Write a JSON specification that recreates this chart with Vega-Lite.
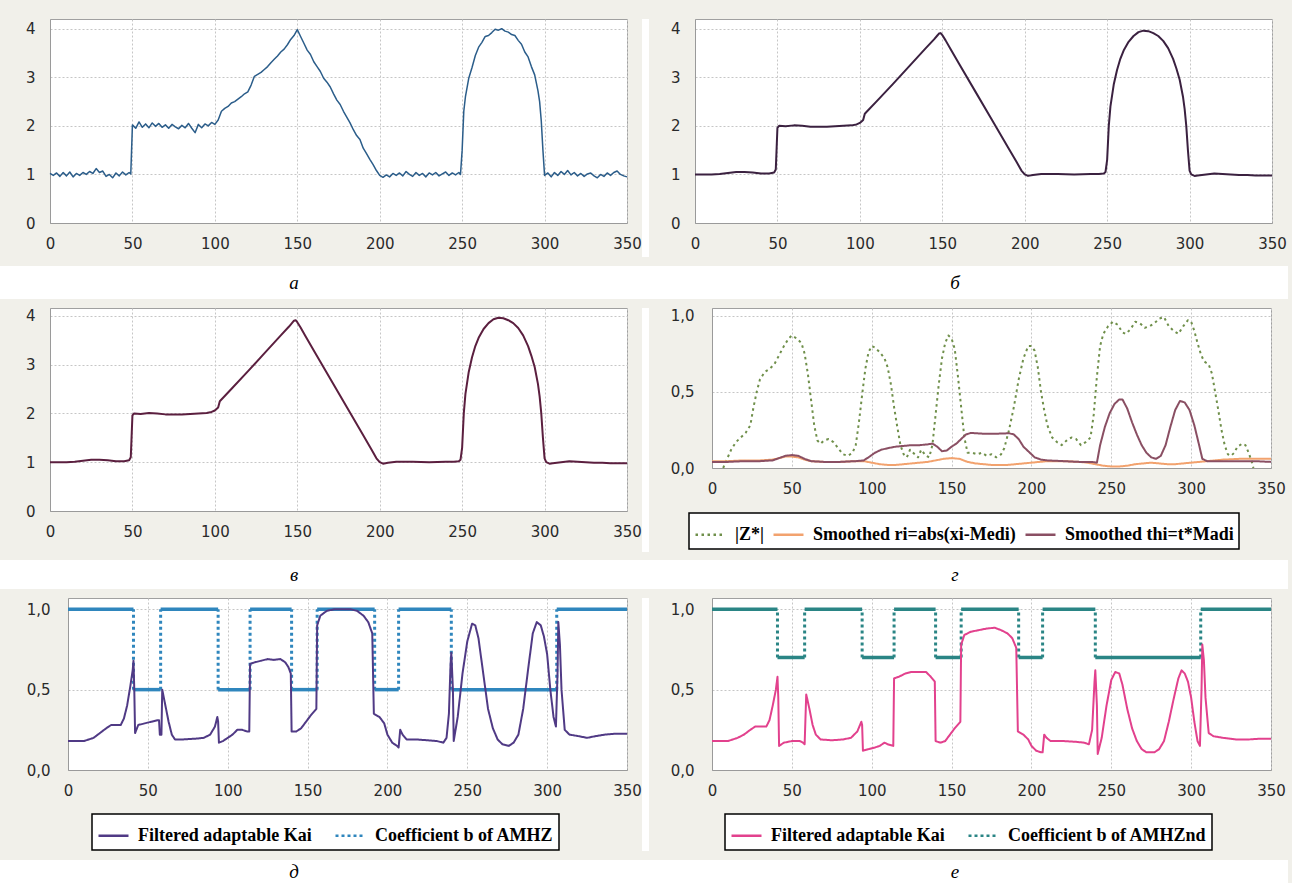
{
  "$schema": "https://vega.github.io/schema/vega-lite/v6.json",
  "background": "#f1f0ea",
  "padding": {"left": 0, "top": 18, "right": 4, "bottom": 0},
  "spacing": 8,
  "datasets": {
    "noisy": [
      {"x":0,"y":1.02},{"x":2,"y":0.98},{"x":4,"y":1.03},{"x":6,"y":0.96},{"x":8,"y":1.04},{"x":10,"y":0.97},{"x":12,"y":1.05},{"x":14,"y":0.95},{"x":16,"y":1.02},{"x":18,"y":0.98},{"x":20,"y":1.04},{"x":22,"y":1.0},{"x":24,"y":1.06},{"x":26,"y":1.02},{"x":28,"y":1.12},{"x":30,"y":1.04},{"x":32,"y":1.07},{"x":34,"y":0.96},{"x":36,"y":1.0},{"x":38,"y":0.93},{"x":40,"y":1.03},{"x":42,"y":0.97},{"x":44,"y":1.05},{"x":46,"y":0.99},{"x":48,"y":1.04},{"x":49,"y":1.01},
      {"x":50,"y":2.02},{"x":52,"y":1.95},{"x":54,"y":2.08},{"x":56,"y":1.97},{"x":58,"y":2.04},{"x":60,"y":1.96},{"x":62,"y":2.06},{"x":64,"y":1.99},{"x":66,"y":2.05},{"x":68,"y":1.97},{"x":70,"y":2.02},{"x":72,"y":1.95},{"x":74,"y":2.03},{"x":76,"y":1.98},{"x":78,"y":1.94},{"x":80,"y":2.01},{"x":82,"y":1.96},{"x":84,"y":2.05},{"x":86,"y":1.95},{"x":88,"y":1.86},{"x":90,"y":2.03},{"x":92,"y":1.96},{"x":94,"y":2.04},{"x":96,"y":2.0},{"x":98,"y":2.07},{"x":100,"y":2.03},
      {"x":102,"y":2.12},{"x":104,"y":2.3},{"x":106,"y":2.36},{"x":108,"y":2.4},{"x":110,"y":2.47},{"x":112,"y":2.5},{"x":114,"y":2.55},{"x":116,"y":2.6},{"x":118,"y":2.66},{"x":120,"y":2.7},{"x":122,"y":2.84},{"x":124,"y":3.02},{"x":126,"y":3.06},{"x":128,"y":3.1},{"x":130,"y":3.16},{"x":132,"y":3.22},{"x":134,"y":3.3},{"x":136,"y":3.37},{"x":138,"y":3.44},{"x":140,"y":3.52},{"x":142,"y":3.58},{"x":144,"y":3.67},{"x":146,"y":3.78},{"x":148,"y":3.86},{"x":150,"y":3.98},
      {"x":152,"y":3.84},{"x":154,"y":3.7},{"x":156,"y":3.56},{"x":158,"y":3.47},{"x":160,"y":3.32},{"x":162,"y":3.22},{"x":164,"y":3.12},{"x":166,"y":2.98},{"x":168,"y":2.9},{"x":170,"y":2.8},{"x":172,"y":2.66},{"x":174,"y":2.53},{"x":176,"y":2.44},{"x":178,"y":2.3},{"x":180,"y":2.18},{"x":182,"y":2.06},{"x":184,"y":1.92},{"x":186,"y":1.8},{"x":188,"y":1.72},{"x":190,"y":1.54},{"x":192,"y":1.43},{"x":194,"y":1.31},{"x":196,"y":1.2},{"x":198,"y":1.08},{"x":200,"y":0.98},
      {"x":202,"y":0.94},{"x":204,"y":0.99},{"x":206,"y":0.95},{"x":208,"y":1.02},{"x":210,"y":0.98},{"x":212,"y":1.03},{"x":214,"y":0.97},{"x":216,"y":1.06},{"x":218,"y":1.0},{"x":220,"y":0.96},{"x":222,"y":1.04},{"x":224,"y":0.98},{"x":226,"y":1.02},{"x":228,"y":0.95},{"x":230,"y":1.03},{"x":232,"y":0.99},{"x":234,"y":1.04},{"x":236,"y":0.97},{"x":238,"y":1.01},{"x":240,"y":1.05},{"x":242,"y":0.98},{"x":244,"y":1.03},{"x":246,"y":0.99},{"x":248,"y":1.04},{"x":249,"y":1.0},
      {"x":250,"y":1.5},{"x":251,"y":2.3},{"x":252,"y":2.6},{"x":254,"y":2.98},{"x":256,"y":3.2},{"x":258,"y":3.45},{"x":260,"y":3.62},{"x":262,"y":3.72},{"x":264,"y":3.84},{"x":266,"y":3.86},{"x":268,"y":3.92},{"x":270,"y":3.99},{"x":272,"y":3.97},{"x":274,"y":4.0},{"x":276,"y":3.95},{"x":278,"y":3.93},{"x":280,"y":3.88},{"x":282,"y":3.86},{"x":284,"y":3.76},{"x":286,"y":3.68},{"x":288,"y":3.52},{"x":290,"y":3.42},{"x":292,"y":3.22},{"x":294,"y":3.05},{"x":296,"y":2.72},{"x":297,"y":2.5},{"x":298,"y":2.1},{"x":299,"y":1.5},{"x":300,"y":0.98},
      {"x":302,"y":1.03},{"x":304,"y":0.95},{"x":306,"y":1.04},{"x":308,"y":0.98},{"x":310,"y":1.06},{"x":312,"y":1.0},{"x":314,"y":1.08},{"x":316,"y":0.99},{"x":318,"y":1.04},{"x":320,"y":0.97},{"x":322,"y":1.02},{"x":324,"y":0.96},{"x":326,"y":1.01},{"x":328,"y":1.03},{"x":330,"y":0.97},{"x":332,"y":0.93},{"x":334,"y":1.0},{"x":336,"y":0.96},{"x":338,"y":1.03},{"x":340,"y":0.98},{"x":342,"y":1.04},{"x":344,"y":1.07},{"x":346,"y":1.0},{"x":348,"y":0.97},{"x":350,"y":0.95}
    ],
    "smooth": [
      {"x":0,"y":1.0},{"x":5,"y":1.0},{"x":10,"y":1.0},{"x":15,"y":1.01},{"x":20,"y":1.03},{"x":25,"y":1.05},{"x":30,"y":1.05},{"x":35,"y":1.04},{"x":40,"y":1.02},{"x":45,"y":1.02},{"x":48,"y":1.04},{"x":49,"y":1.1},{"x":50,"y":1.96},{"x":51,"y":2.0},{"x":55,"y":1.99},{"x":60,"y":2.01},{"x":65,"y":2.0},{"x":70,"y":1.98},{"x":75,"y":1.98},{"x":80,"y":1.98},{"x":85,"y":1.99},{"x":90,"y":2.0},{"x":95,"y":2.01},{"x":98,"y":2.03},{"x":100,"y":2.06},{"x":102,"y":2.12},{"x":103,"y":2.25},{"x":105,"y":2.32},{"x":110,"y":2.5},{"x":120,"y":2.86},{"x":130,"y":3.23},{"x":140,"y":3.6},{"x":145,"y":3.78},{"x":147,"y":3.86},{"x":148,"y":3.9},{"x":149,"y":3.91},{"x":150,"y":3.87},{"x":152,"y":3.76},{"x":155,"y":3.58},{"x":160,"y":3.29},{"x":170,"y":2.71},{"x":180,"y":2.13},{"x":190,"y":1.55},{"x":195,"y":1.26},{"x":198,"y":1.08},{"x":200,"y":1.0},{"x":202,"y":0.97},{"x":205,"y":0.99},{"x":210,"y":1.01},{"x":220,"y":1.01},{"x":230,"y":1.0},{"x":240,"y":1.01},{"x":245,"y":1.01},{"x":248,"y":1.02},{"x":249,"y":1.05},{"x":250,"y":1.3},{"x":251,"y":2.0},{"x":252,"y":2.4},{"x":254,"y":2.85},{"x":256,"y":3.15},{"x":258,"y":3.38},{"x":260,"y":3.55},{"x":263,"y":3.73},{"x":266,"y":3.85},{"x":269,"y":3.93},{"x":272,"y":3.96},{"x":275,"y":3.95},{"x":278,"y":3.91},{"x":281,"y":3.85},{"x":284,"y":3.75},{"x":287,"y":3.6},{"x":290,"y":3.38},{"x":292,"y":3.18},{"x":294,"y":2.95},{"x":296,"y":2.6},{"x":297,"y":2.35},{"x":298,"y":2.0},{"x":299,"y":1.5},{"x":300,"y":1.08},{"x":301,"y":1.0},{"x":303,"y":0.97},{"x":305,"y":0.98},{"x":310,"y":1.0},{"x":315,"y":1.02},{"x":320,"y":1.01},{"x":325,"y":1.0},{"x":330,"y":0.99},{"x":335,"y":0.99},{"x":340,"y":0.98},{"x":345,"y":0.98},{"x":350,"y":0.98}
    ],
    "g": [
      {"s":"z","x":7,"v":0.0},{"s":"z","x":9,"v":0.05},{"s":"z","x":12,"v":0.12},{"s":"z","x":15,"v":0.17},{"s":"z","x":18,"v":0.2},{"s":"z","x":21,"v":0.23},{"s":"z","x":24,"v":0.28},{"s":"z","x":26,"v":0.4},{"s":"z","x":28,"v":0.5},{"s":"z","x":30,"v":0.58},{"s":"z","x":33,"v":0.63},{"s":"z","x":36,"v":0.65},{"s":"z","x":39,"v":0.68},{"s":"z","x":42,"v":0.74},{"s":"z","x":45,"v":0.8},{"s":"z","x":48,"v":0.85},{"s":"z","x":50,"v":0.87},{"s":"z","x":53,"v":0.85},{"s":"z","x":56,"v":0.82},{"s":"z","x":58,"v":0.75},{"s":"z","x":60,"v":0.62},{"s":"z","x":62,"v":0.45},{"s":"z","x":64,"v":0.28},{"s":"z","x":66,"v":0.18},{"s":"z","x":68,"v":0.16},{"s":"z","x":70,"v":0.18},{"s":"z","x":73,"v":0.19},{"s":"z","x":76,"v":0.17},{"s":"z","x":79,"v":0.13},{"s":"z","x":82,"v":0.09},{"s":"z","x":85,"v":0.08},{"s":"z","x":88,"v":0.1},{"s":"z","x":90,"v":0.15},{"s":"z","x":92,"v":0.3},{"s":"z","x":94,"v":0.48},{"s":"z","x":96,"v":0.65},{"s":"z","x":98,"v":0.76},{"s":"z","x":100,"v":0.8},{"s":"z","x":102,"v":0.79},{"s":"z","x":105,"v":0.76},{"s":"z","x":108,"v":0.72},{"s":"z","x":110,"v":0.66},{"s":"z","x":112,"v":0.55},{"s":"z","x":114,"v":0.4},{"s":"z","x":116,"v":0.27},{"s":"z","x":118,"v":0.15},{"s":"z","x":120,"v":0.09},{"s":"z","x":122,"v":0.07},{"s":"z","x":124,"v":0.12},{"s":"z","x":127,"v":0.09},{"s":"z","x":129,"v":0.07},{"s":"z","x":131,"v":0.12},{"s":"z","x":134,"v":0.08},{"s":"z","x":136,"v":0.07},{"s":"z","x":138,"v":0.15},{"s":"z","x":140,"v":0.35},{"s":"z","x":142,"v":0.55},{"s":"z","x":144,"v":0.72},{"s":"z","x":146,"v":0.82},{"s":"z","x":148,"v":0.87},{"s":"z","x":150,"v":0.85},{"s":"z","x":152,"v":0.78},{"s":"z","x":154,"v":0.6},{"s":"z","x":156,"v":0.4},{"s":"z","x":158,"v":0.2},{"s":"z","x":160,"v":0.1},{"s":"z","x":163,"v":0.1},{"s":"z","x":166,"v":0.09},{"s":"z","x":169,"v":0.1},{"s":"z","x":172,"v":0.08},{"s":"z","x":175,"v":0.09},{"s":"z","x":178,"v":0.07},{"s":"z","x":181,"v":0.09},{"s":"z","x":183,"v":0.13},{"s":"z","x":186,"v":0.25},{"s":"z","x":189,"v":0.4},{"s":"z","x":192,"v":0.58},{"s":"z","x":195,"v":0.72},{"s":"z","x":198,"v":0.8},{"s":"z","x":200,"v":0.8},{"s":"z","x":202,"v":0.77},{"s":"z","x":204,"v":0.66},{"s":"z","x":206,"v":0.5},{"s":"z","x":208,"v":0.38},{"s":"z","x":210,"v":0.28},{"s":"z","x":213,"v":0.2},{"s":"z","x":216,"v":0.17},{"s":"z","x":219,"v":0.15},{"s":"z","x":222,"v":0.18},{"s":"z","x":225,"v":0.2},{"s":"z","x":228,"v":0.19},{"s":"z","x":231,"v":0.15},{"s":"z","x":234,"v":0.17},{"s":"z","x":237,"v":0.2},{"s":"z","x":239,"v":0.35},{"s":"z","x":241,"v":0.6},{"s":"z","x":243,"v":0.8},{"s":"z","x":245,"v":0.88},{"s":"z","x":248,"v":0.93},{"s":"z","x":251,"v":0.96},{"s":"z","x":254,"v":0.94},{"s":"z","x":257,"v":0.89},{"s":"z","x":259,"v":0.88},{"s":"z","x":262,"v":0.91},{"s":"z","x":265,"v":0.96},{"s":"z","x":268,"v":0.95},{"s":"z","x":271,"v":0.92},{"s":"z","x":274,"v":0.93},{"s":"z","x":277,"v":0.95},{"s":"z","x":280,"v":0.98},{"s":"z","x":283,"v":0.99},{"s":"z","x":286,"v":0.93},{"s":"z","x":289,"v":0.9},{"s":"z","x":292,"v":0.88},{"s":"z","x":295,"v":0.93},{"s":"z","x":298,"v":0.97},{"s":"z","x":300,"v":0.96},{"s":"z","x":302,"v":0.9},{"s":"z","x":304,"v":0.82},{"s":"z","x":306,"v":0.75},{"s":"z","x":308,"v":0.7},{"s":"z","x":311,"v":0.68},{"s":"z","x":313,"v":0.62},{"s":"z","x":315,"v":0.5},{"s":"z","x":317,"v":0.38},{"s":"z","x":319,"v":0.25},{"s":"z","x":321,"v":0.15},{"s":"z","x":323,"v":0.09},{"s":"z","x":325,"v":0.08},{"s":"z","x":327,"v":0.1},{"s":"z","x":329,"v":0.14},{"s":"z","x":332,"v":0.16},{"s":"z","x":334,"v":0.15},{"s":"z","x":336,"v":0.1},{"s":"z","x":338,"v":0.04},{"s":"z","x":339,"v":0.0},
      {"s":"r","x":0,"v":0.045},{"s":"r","x":10,"v":0.045},{"s":"r","x":20,"v":0.05},{"s":"r","x":30,"v":0.05},{"s":"r","x":38,"v":0.055},{"s":"r","x":42,"v":0.065},{"s":"r","x":46,"v":0.075},{"s":"r","x":50,"v":0.075},{"s":"r","x":54,"v":0.07},{"s":"r","x":58,"v":0.055},{"s":"r","x":62,"v":0.045},{"s":"r","x":70,"v":0.04},{"s":"r","x":80,"v":0.04},{"s":"r","x":90,"v":0.045},{"s":"r","x":95,"v":0.045},{"s":"r","x":100,"v":0.035},{"s":"r","x":105,"v":0.025},{"s":"r","x":110,"v":0.02},{"s":"r","x":115,"v":0.02},{"s":"r","x":120,"v":0.025},{"s":"r","x":125,"v":0.03},{"s":"r","x":130,"v":0.035},{"s":"r","x":135,"v":0.04},{"s":"r","x":140,"v":0.05},{"s":"r","x":145,"v":0.06},{"s":"r","x":150,"v":0.065},{"s":"r","x":155,"v":0.06},{"s":"r","x":160,"v":0.04},{"s":"r","x":165,"v":0.03},{"s":"r","x":170,"v":0.025},{"s":"r","x":175,"v":0.02},{"s":"r","x":180,"v":0.02},{"s":"r","x":185,"v":0.02},{"s":"r","x":190,"v":0.025},{"s":"r","x":195,"v":0.03},{"s":"r","x":200,"v":0.035},{"s":"r","x":205,"v":0.04},{"s":"r","x":210,"v":0.045},{"s":"r","x":220,"v":0.045},{"s":"r","x":230,"v":0.04},{"s":"r","x":235,"v":0.035},{"s":"r","x":240,"v":0.025},{"s":"r","x":245,"v":0.015},{"s":"r","x":250,"v":0.01},{"s":"r","x":255,"v":0.01},{"s":"r","x":260,"v":0.015},{"s":"r","x":265,"v":0.025},{"s":"r","x":270,"v":0.03},{"s":"r","x":275,"v":0.035},{"s":"r","x":280,"v":0.03},{"s":"r","x":285,"v":0.025},{"s":"r","x":290,"v":0.025},{"s":"r","x":295,"v":0.03},{"s":"r","x":300,"v":0.035},{"s":"r","x":305,"v":0.04},{"s":"r","x":310,"v":0.045},{"s":"r","x":315,"v":0.05},{"s":"r","x":320,"v":0.055},{"s":"r","x":330,"v":0.06},{"s":"r","x":340,"v":0.06},{"s":"r","x":350,"v":0.06},
      {"s":"t","x":0,"v":0.04},{"s":"t","x":10,"v":0.04},{"s":"t","x":20,"v":0.045},{"s":"t","x":30,"v":0.045},{"s":"t","x":38,"v":0.05},{"s":"t","x":42,"v":0.065},{"s":"t","x":46,"v":0.08},{"s":"t","x":50,"v":0.085},{"s":"t","x":54,"v":0.08},{"s":"t","x":58,"v":0.06},{"s":"t","x":62,"v":0.045},{"s":"t","x":70,"v":0.04},{"s":"t","x":80,"v":0.04},{"s":"t","x":90,"v":0.045},{"s":"t","x":95,"v":0.05},{"s":"t","x":98,"v":0.07},{"s":"t","x":102,"v":0.1},{"s":"t","x":106,"v":0.12},{"s":"t","x":110,"v":0.13},{"s":"t","x":115,"v":0.14},{"s":"t","x":120,"v":0.145},{"s":"t","x":125,"v":0.15},{"s":"t","x":130,"v":0.15},{"s":"t","x":135,"v":0.155},{"s":"t","x":138,"v":0.16},{"s":"t","x":141,"v":0.14},{"s":"t","x":144,"v":0.11},{"s":"t","x":147,"v":0.115},{"s":"t","x":150,"v":0.14},{"s":"t","x":153,"v":0.16},{"s":"t","x":156,"v":0.19},{"s":"t","x":159,"v":0.22},{"s":"t","x":162,"v":0.23},{"s":"t","x":170,"v":0.225},{"s":"t","x":178,"v":0.225},{"s":"t","x":186,"v":0.228},{"s":"t","x":189,"v":0.22},{"s":"t","x":192,"v":0.19},{"s":"t","x":195,"v":0.14},{"s":"t","x":198,"v":0.11},{"s":"t","x":202,"v":0.07},{"s":"t","x":206,"v":0.055},{"s":"t","x":210,"v":0.05},{"s":"t","x":220,"v":0.045},{"s":"t","x":230,"v":0.04},{"s":"t","x":238,"v":0.04},{"s":"t","x":241,"v":0.035},{"s":"t","x":243,"v":0.15},{"s":"t","x":246,"v":0.27},{"s":"t","x":249,"v":0.36},{"s":"t","x":252,"v":0.42},{"s":"t","x":255,"v":0.45},{"s":"t","x":257,"v":0.45},{"s":"t","x":260,"v":0.39},{"s":"t","x":263,"v":0.3},{"s":"t","x":266,"v":0.22},{"s":"t","x":269,"v":0.15},{"s":"t","x":272,"v":0.1},{"s":"t","x":275,"v":0.07},{"s":"t","x":278,"v":0.06},{"s":"t","x":281,"v":0.08},{"s":"t","x":284,"v":0.15},{"s":"t","x":287,"v":0.27},{"s":"t","x":290,"v":0.38},{"s":"t","x":293,"v":0.44},{"s":"t","x":296,"v":0.43},{"s":"t","x":299,"v":0.38},{"s":"t","x":302,"v":0.28},{"s":"t","x":305,"v":0.15},{"s":"t","x":307,"v":0.06},{"s":"t","x":310,"v":0.045},{"s":"t","x":320,"v":0.045},{"s":"t","x":330,"v":0.045},{"s":"t","x":340,"v":0.045},{"s":"t","x":350,"v":0.04}
    ],
    "dk": [
      {"s":"k","x":0,"y":0.18},{"s":"k","x":5,"y":0.18},{"s":"k","x":10,"y":0.18},{"s":"k","x":13,"y":0.19},{"s":"k","x":16,"y":0.2},{"s":"k","x":20,"y":0.23},{"s":"k","x":24,"y":0.26},{"s":"k","x":27,"y":0.28},{"s":"k","x":30,"y":0.28},{"s":"k","x":33,"y":0.28},{"s":"k","x":35,"y":0.32},{"s":"k","x":37,"y":0.4},{"s":"k","x":39,"y":0.52},{"s":"k","x":40.5,"y":0.62},{"s":"k","x":41,"y":0.68},{"s":"k","x":41.5,"y":0.5},{"s":"k","x":42,"y":0.23},{"s":"k","x":44,"y":0.28},{"s":"k","x":48,"y":0.29},{"s":"k","x":52,"y":0.3},{"s":"k","x":56,"y":0.31},{"s":"k","x":57,"y":0.31},{"s":"k","x":57.5,"y":0.22},{"s":"k","x":58.5,"y":0.22},{"s":"k","x":59,"y":0.5},{"s":"k","x":61,"y":0.4},{"s":"k","x":63,"y":0.3},{"s":"k","x":65,"y":0.22},{"s":"k","x":67,"y":0.19},{"s":"k","x":72,"y":0.19},{"s":"k","x":80,"y":0.195},{"s":"k","x":85,"y":0.2},{"s":"k","x":89,"y":0.22},{"s":"k","x":92,"y":0.27},{"s":"k","x":93.5,"y":0.33},{"s":"k","x":94,"y":0.3},{"s":"k","x":94.5,"y":0.17},{"s":"k","x":97,"y":0.18},{"s":"k","x":100,"y":0.2},{"s":"k","x":103,"y":0.22},{"s":"k","x":106,"y":0.25},{"s":"k","x":109,"y":0.25},{"s":"k","x":112,"y":0.24},{"s":"k","x":113.5,"y":0.24},{"s":"k","x":114,"y":0.66},{"s":"k","x":117,"y":0.67},{"s":"k","x":121,"y":0.68},{"s":"k","x":125,"y":0.69},{"s":"k","x":129,"y":0.685},{"s":"k","x":133,"y":0.69},{"s":"k","x":136,"y":0.67},{"s":"k","x":138,"y":0.64},{"s":"k","x":139.5,"y":0.6},{"s":"k","x":140,"y":0.24},{"s":"k","x":143,"y":0.24},{"s":"k","x":146,"y":0.26},{"s":"k","x":149,"y":0.3},{"s":"k","x":152,"y":0.34},{"s":"k","x":155.5,"y":0.38},{"s":"k","x":156,"y":0.9},{"s":"k","x":158,"y":0.96},{"s":"k","x":162,"y":0.99},{"s":"k","x":167,"y":1.0},{"s":"k","x":172,"y":1.0},{"s":"k","x":177,"y":1.0},{"s":"k","x":181,"y":0.99},{"s":"k","x":185,"y":0.96},{"s":"k","x":188,"y":0.92},{"s":"k","x":190.5,"y":0.85},{"s":"k","x":191.5,"y":0.35},{"s":"k","x":195,"y":0.33},{"s":"k","x":198,"y":0.29},{"s":"k","x":200,"y":0.22},{"s":"k","x":203,"y":0.17},{"s":"k","x":206,"y":0.15},{"s":"k","x":207,"y":0.14},{"s":"k","x":208,"y":0.25},{"s":"k","x":209.5,"y":0.22},{"s":"k","x":212,"y":0.19},{"s":"k","x":218,"y":0.19},{"s":"k","x":225,"y":0.185},{"s":"k","x":231,"y":0.18},{"s":"k","x":235,"y":0.17},{"s":"k","x":237,"y":0.2},{"s":"k","x":238.5,"y":0.35},{"s":"k","x":239.5,"y":0.65},{"s":"k","x":240,"y":0.73},{"s":"k","x":241,"y":0.5},{"s":"k","x":241.5,"y":0.18},{"s":"k","x":244,"y":0.33},{"s":"k","x":247,"y":0.6},{"s":"k","x":250,"y":0.8},{"s":"k","x":253,"y":0.91},{"s":"k","x":255,"y":0.9},{"s":"k","x":257,"y":0.82},{"s":"k","x":260,"y":0.6},{"s":"k","x":263,"y":0.38},{"s":"k","x":266,"y":0.26},{"s":"k","x":269,"y":0.19},{"s":"k","x":272,"y":0.16},{"s":"k","x":276,"y":0.15},{"s":"k","x":279,"y":0.17},{"s":"k","x":282,"y":0.22},{"s":"k","x":285,"y":0.38},{"s":"k","x":288,"y":0.62},{"s":"k","x":291,"y":0.85},{"s":"k","x":293.5,"y":0.92},{"s":"k","x":296,"y":0.9},{"s":"k","x":298,"y":0.83},{"s":"k","x":300,"y":0.72},{"s":"k","x":302,"y":0.5},{"s":"k","x":304,"y":0.33},{"s":"k","x":305.5,"y":0.27},{"s":"k","x":306.5,"y":0.6},{"s":"k","x":307,"y":0.92},{"s":"k","x":308,"y":0.78},{"s":"k","x":309,"y":0.5},{"s":"k","x":311,"y":0.25},{"s":"k","x":314,"y":0.22},{"s":"k","x":320,"y":0.21},{"s":"k","x":325,"y":0.2},{"s":"k","x":330,"y":0.21},{"s":"k","x":336,"y":0.22},{"s":"k","x":342,"y":0.225},{"s":"k","x":350,"y":0.225}
    ],
    "ek": [
      {"s":"k","x":0,"y":0.18},{"s":"k","x":5,"y":0.18},{"s":"k","x":10,"y":0.18},{"s":"k","x":13,"y":0.19},{"s":"k","x":16,"y":0.2},{"s":"k","x":20,"y":0.22},{"s":"k","x":24,"y":0.25},{"s":"k","x":27,"y":0.27},{"s":"k","x":30,"y":0.27},{"s":"k","x":34,"y":0.27},{"s":"k","x":36,"y":0.31},{"s":"k","x":38,"y":0.4},{"s":"k","x":40,"y":0.5},{"s":"k","x":41,"y":0.58},{"s":"k","x":41.5,"y":0.45},{"s":"k","x":42,"y":0.15},{"s":"k","x":45,"y":0.17},{"s":"k","x":50,"y":0.18},{"s":"k","x":55,"y":0.18},{"s":"k","x":57,"y":0.17},{"s":"k","x":58,"y":0.16},{"s":"k","x":59,"y":0.47},{"s":"k","x":61,"y":0.38},{"s":"k","x":63,"y":0.28},{"s":"k","x":65,"y":0.22},{"s":"k","x":68,"y":0.19},{"s":"k","x":75,"y":0.185},{"s":"k","x":82,"y":0.19},{"s":"k","x":87,"y":0.2},{"s":"k","x":91,"y":0.24},{"s":"k","x":93.5,"y":0.3},{"s":"k","x":94,"y":0.28},{"s":"k","x":94.5,"y":0.12},{"s":"k","x":98,"y":0.13},{"s":"k","x":102,"y":0.14},{"s":"k","x":105,"y":0.15},{"s":"k","x":108,"y":0.17},{"s":"k","x":110,"y":0.16},{"s":"k","x":113.5,"y":0.15},{"s":"k","x":114,"y":0.57},{"s":"k","x":117,"y":0.58},{"s":"k","x":121,"y":0.6},{"s":"k","x":125,"y":0.61},{"s":"k","x":130,"y":0.61},{"s":"k","x":134,"y":0.61},{"s":"k","x":137,"y":0.58},{"s":"k","x":139.5,"y":0.55},{"s":"k","x":140,"y":0.18},{"s":"k","x":143,"y":0.17},{"s":"k","x":146,"y":0.18},{"s":"k","x":149,"y":0.22},{"s":"k","x":152,"y":0.26},{"s":"k","x":155.5,"y":0.3},{"s":"k","x":156,"y":0.78},{"s":"k","x":158,"y":0.84},{"s":"k","x":162,"y":0.86},{"s":"k","x":167,"y":0.87},{"s":"k","x":172,"y":0.88},{"s":"k","x":177,"y":0.885},{"s":"k","x":181,"y":0.87},{"s":"k","x":185,"y":0.85},{"s":"k","x":188,"y":0.82},{"s":"k","x":190.5,"y":0.76},{"s":"k","x":191.5,"y":0.24},{"s":"k","x":195,"y":0.22},{"s":"k","x":198,"y":0.19},{"s":"k","x":200,"y":0.15},{"s":"k","x":203,"y":0.12},{"s":"k","x":206,"y":0.11},{"s":"k","x":207,"y":0.11},{"s":"k","x":208,"y":0.22},{"s":"k","x":209.5,"y":0.2},{"s":"k","x":212,"y":0.18},{"s":"k","x":220,"y":0.18},{"s":"k","x":228,"y":0.175},{"s":"k","x":233,"y":0.17},{"s":"k","x":236,"y":0.16},{"s":"k","x":238,"y":0.25},{"s":"k","x":239.5,"y":0.55},{"s":"k","x":240,"y":0.62},{"s":"k","x":241,"y":0.4},{"s":"k","x":241.5,"y":0.1},{"s":"k","x":244,"y":0.2},{"s":"k","x":247,"y":0.4},{"s":"k","x":250,"y":0.56},{"s":"k","x":252.5,"y":0.61},{"s":"k","x":255,"y":0.6},{"s":"k","x":257,"y":0.53},{"s":"k","x":260,"y":0.38},{"s":"k","x":263,"y":0.26},{"s":"k","x":266,"y":0.18},{"s":"k","x":269,"y":0.13},{"s":"k","x":272,"y":0.11},{"s":"k","x":277,"y":0.11},{"s":"k","x":280,"y":0.13},{"s":"k","x":283,"y":0.18},{"s":"k","x":286,"y":0.3},{"s":"k","x":289,"y":0.44},{"s":"k","x":292,"y":0.57},{"s":"k","x":294,"y":0.62},{"s":"k","x":296,"y":0.6},{"s":"k","x":298,"y":0.55},{"s":"k","x":300,"y":0.45},{"s":"k","x":302,"y":0.3},{"s":"k","x":304,"y":0.18},{"s":"k","x":305.5,"y":0.15},{"s":"k","x":306.5,"y":0.5},{"s":"k","x":307,"y":0.78},{"s":"k","x":308,"y":0.68},{"s":"k","x":309,"y":0.45},{"s":"k","x":311,"y":0.23},{"s":"k","x":314,"y":0.21},{"s":"k","x":320,"y":0.2},{"s":"k","x":328,"y":0.19},{"s":"k","x":336,"y":0.19},{"s":"k","x":344,"y":0.195},{"s":"k","x":350,"y":0.195}
    ],
    "dh": [
      {"x":0,"x2":41,"y":1},{"x":41,"x2":58,"y":0.5},{"x":58,"x2":94,"y":1},{"x":94,"x2":114,"y":0.5},{"x":114,"x2":140,"y":1},{"x":140,"x2":156,"y":0.5},{"x":156,"x2":192,"y":1},{"x":192,"x2":207,"y":0.5},{"x":207,"x2":240,"y":1},{"x":240,"x2":306,"y":0.5},{"x":306,"x2":350,"y":1}
    ],
    "dv": [
      {"s":"b","x":41,"y":0.5,"y2":1},{"s":"b","x":58,"y":0.5,"y2":1},{"s":"b","x":94,"y":0.5,"y2":1},{"s":"b","x":114,"y":0.5,"y2":1},{"s":"b","x":140,"y":0.5,"y2":1},{"s":"b","x":156,"y":0.5,"y2":1},{"s":"b","x":192,"y":0.5,"y2":1},{"s":"b","x":207,"y":0.5,"y2":1},{"s":"b","x":240,"y":0.5,"y2":1},{"s":"b","x":306,"y":0.5,"y2":1}
    ],
    "eh": [
      {"x":0,"x2":41,"y":1},{"x":41,"x2":58,"y":0.7},{"x":58,"x2":94,"y":1},{"x":94,"x2":114,"y":0.7},{"x":114,"x2":140,"y":1},{"x":140,"x2":156,"y":0.7},{"x":156,"x2":192,"y":1},{"x":192,"x2":207,"y":0.7},{"x":207,"x2":240,"y":1},{"x":240,"x2":306,"y":0.7},{"x":306,"x2":350,"y":1}
    ],
    "ev": [
      {"s":"b","x":41,"y":0.7,"y2":1},{"s":"b","x":58,"y":0.7,"y2":1},{"s":"b","x":94,"y":0.7,"y2":1},{"s":"b","x":114,"y":0.7,"y2":1},{"s":"b","x":140,"y":0.7,"y2":1},{"s":"b","x":156,"y":0.7,"y2":1},{"s":"b","x":192,"y":0.7,"y2":1},{"s":"b","x":207,"y":0.7,"y2":1},{"s":"b","x":240,"y":0.7,"y2":1},{"s":"b","x":306,"y":0.7,"y2":1}
    ]
  },
  "vconcat": [
    {
      "hconcat": [
        {"width": 6, "height": 238, "view": {"fill": "#f1f0ea", "stroke": null}, "data": {"values": [{"c": ""}]}, "mark": "text", "encoding": {"text": {"field": "c"}}},
        {
          "width": 577, "height": 204,
          "data": {"name": "noisy"},
          "mark": {"type": "line", "color": "#2b5d8a", "strokeWidth": 1.5},
          "encoding": {
            "x": {"field": "x", "type": "quantitative", "title": null, "scale": {"domain": [0, 350], "nice": false}, "axis": {"values": [0,50,100,150,200,250,300,350], "minExtent": 34, "maxExtent": 34}},
            "y": {"field": "y", "type": "quantitative", "title": null, "scale": {"domain": [0, 4.2], "nice": false}, "axis": {"values": [0,1,2,3,4], "minExtent": 43, "maxExtent": 43}}
          }
        },
        {"width": 7, "height": 238, "view": {"fill": "white", "stroke": null}, "data": {"values": [{"c": ""}]}, "mark": "text", "encoding": {"text": {"field": "c"}}},
        {
          "width": 577, "height": 204,
          "data": {"name": "smooth"},
          "mark": {"type": "line", "color": "#3b2140", "strokeWidth": 2},
          "encoding": {
            "x": {"field": "x", "type": "quantitative", "title": null, "scale": {"domain": [0, 350], "nice": false}, "axis": {"values": [0,50,100,150,200,250,300,350], "minExtent": 34, "maxExtent": 34}},
            "y": {"field": "y", "type": "quantitative", "title": null, "scale": {"domain": [0, 4.2], "nice": false}, "axis": {"values": [0,1,2,3,4], "minExtent": 45, "maxExtent": 45}}
          }
        }
      ],
      "spacing": 0,
      "resolve": {"scale": {"color": "independent", "strokeDash": "independent"}, "legend": {"color": "independent", "strokeDash": "independent"}}
    },
    {
      "hconcat": [
        {"width": 588, "height": 33, "view": {"fill": "white", "stroke": null}, "data": {"values": [{"c": "а"}]}, "mark": {"type": "text", "font": "Liberation Serif", "fontStyle": "italic", "fontSize": 19, "color": "black"}, "encoding": {"text": {"field": "c"}}},
        {"width": 34, "height": 33, "view": {"fill": "white", "stroke": null}, "data": {"values": [{"c": ""}]}, "mark": "text", "encoding": {"text": {"field": "c"}}},
        {"width": 666, "height": 33, "view": {"fill": "white", "stroke": null}, "data": {"values": [{"c": "б"}]}, "mark": {"type": "text", "font": "Liberation Serif", "fontStyle": "italic", "fontSize": 19, "color": "black"}, "encoding": {"text": {"field": "c"}}}
      ],
      "spacing": 0
    },
    {
      "hconcat": [
        {"width": 6, "height": 244, "view": {"fill": "#f1f0ea", "stroke": null}, "data": {"values": [{"c": ""}]}, "mark": "text", "encoding": {"text": {"field": "c"}}},
        {
          "width": 577, "height": 203,
          "data": {"name": "smooth"},
          "mark": {"type": "line", "color": "#5b1f3f", "strokeWidth": 2},
          "encoding": {
            "x": {"field": "x", "type": "quantitative", "title": null, "scale": {"domain": [0, 350], "nice": false}, "axis": {"values": [0,50,100,150,200,250,300,350], "minExtent": 34, "maxExtent": 34}},
            "y": {"field": "y", "type": "quantitative", "title": null, "scale": {"domain": [0, 4.16], "nice": false}, "axis": {"values": [0,1,2,3,4], "minExtent": 43, "maxExtent": 43}}
          }
        },
        {"width": 7, "height": 244, "view": {"fill": "white", "stroke": null}, "data": {"values": [{"c": ""}]}, "mark": "text", "encoding": {"text": {"field": "c"}}},
        {
          "width": 559, "height": 160,
          "data": {"name": "g"},
          "mark": {"type": "line", "strokeWidth": 2},
          "encoding": {
            "x": {"field": "x", "type": "quantitative", "title": null, "scale": {"domain": [0, 350], "nice": false}, "axis": {"values": [0,50,100,150,200,250,300,350], "minExtent": 30, "maxExtent": 30}},
            "y": {"field": "v", "type": "quantitative", "title": null, "scale": {"domain": [0, 1.05], "nice": false}, "axis": {"values": [0,0.5,1], "labelExpr": "replace(format(datum.value, '.1f'), '.', ',')", "labelPadding": 18, "minExtent": 62, "maxExtent": 62}},
            "color": {"field": "s", "type": "nominal", "scale": {"domain": ["z","r","t"], "range": ["#6f8f4a","#f2a26e","#8a4f63"]}, "legend": {"orient": "none", "legendX": -23, "legendY": 205, "columnPadding": 8, "labelExpr": "datum.label == 'z' ? '|Z*|' : (datum.label == 'r' ? 'Smoothed ri=abs(xi-Medi)' : 'Smoothed thi=t*Madi')"}},
            "strokeDash": {"field": "s", "type": "nominal", "scale": {"domain": ["z","r","t"], "range": [[2.5,3.5],[1,0],[1,0]]}, "legend": {"orient": "none", "legendX": -23, "legendY": 205, "columnPadding": 8, "labelExpr": "datum.label == 'z' ? '|Z*|' : (datum.label == 'r' ? 'Smoothed ri=abs(xi-Medi)' : 'Smoothed thi=t*Madi')"}}
          }
        }
      ],
      "spacing": 0,
      "resolve": {"scale": {"color": "independent", "strokeDash": "independent"}, "legend": {"color": "independent", "strokeDash": "independent"}}
    },
    {
      "hconcat": [
        {"width": 588, "height": 29, "view": {"fill": "white", "stroke": null}, "data": {"values": [{"c": "в"}]}, "mark": {"type": "text", "font": "Liberation Serif", "fontStyle": "italic", "fontSize": 19, "color": "black"}, "encoding": {"text": {"field": "c"}}},
        {"width": 34, "height": 29, "view": {"fill": "white", "stroke": null}, "data": {"values": [{"c": ""}]}, "mark": "text", "encoding": {"text": {"field": "c"}}},
        {"width": 666, "height": 29, "view": {"fill": "white", "stroke": null}, "data": {"values": [{"c": "г"}]}, "mark": {"type": "text", "font": "Liberation Serif", "fontStyle": "italic", "fontSize": 19, "color": "black"}, "encoding": {"text": {"field": "c"}}}
      ],
      "spacing": 0
    },
    {
      "hconcat": [
        {"width": 6, "height": 253, "view": {"fill": "#f1f0ea", "stroke": null}, "data": {"values": [{"c": ""}]}, "mark": "text", "encoding": {"text": {"field": "c"}}},
        {
          "width": 559, "height": 172,
          "layer": [
            {
              "data": {"name": "dh"},
              "mark": {"type": "rule", "color": "#2f86bd", "strokeWidth": 3.5},
              "encoding": {
                "x": {"field": "x", "type": "quantitative", "title": null, "scale": {"domain": [0, 350], "nice": false}, "axis": {"values": [0,50,100,150,200,250,300,350], "minExtent": 30, "maxExtent": 30}},
                "x2": {"field": "x2"},
                "y": {"field": "y", "type": "quantitative", "title": null, "scale": {"domain": [0, 1.07], "nice": false}, "axis": {"values": [0,0.5,1], "labelExpr": "replace(format(datum.value, '.1f'), '.', ',')", "labelPadding": 18, "minExtent": 61, "maxExtent": 61}}
              }
            },
            {
              "data": {"name": "dv"},
              "mark": {"type": "rule", "strokeWidth": 3},
              "encoding": {
                "x": {"field": "x", "type": "quantitative"},
                "y": {"field": "y", "type": "quantitative"},
                "y2": {"field": "y2"},
                "color": {"field": "s", "type": "nominal", "scale": {"domain": ["k","b"], "range": ["#503a85","#2f86bd"]}, "legend": {"orient": "none", "legendX": 24, "legendY": 216, "labelExpr": "datum.label == 'k' ? 'Filtered adaptable Kai' : 'Coefficient b of AMHZ'"}},
                "strokeDash": {"field": "s", "type": "nominal", "scale": {"domain": ["k","b"], "range": [[1,0],[3,3]]}, "legend": {"orient": "none", "legendX": 24, "legendY": 216, "labelExpr": "datum.label == 'k' ? 'Filtered adaptable Kai' : 'Coefficient b of AMHZ'"}}
              }
            },
            {
              "data": {"name": "dk"},
              "mark": {"type": "line", "strokeWidth": 2},
              "encoding": {
                "x": {"field": "x", "type": "quantitative"},
                "y": {"field": "y", "type": "quantitative"},
                "color": {"field": "s", "type": "nominal"},
                "strokeDash": {"field": "s", "type": "nominal"}
              }
            }
          ]
        },
        {"width": 7, "height": 253, "view": {"fill": "white", "stroke": null}, "data": {"values": [{"c": ""}]}, "mark": "text", "encoding": {"text": {"field": "c"}}},
        {
          "width": 559, "height": 172,
          "layer": [
            {
              "data": {"name": "eh"},
              "mark": {"type": "rule", "color": "#2a8585", "strokeWidth": 3.5},
              "encoding": {
                "x": {"field": "x", "type": "quantitative", "title": null, "scale": {"domain": [0, 350], "nice": false}, "axis": {"values": [0,50,100,150,200,250,300,350], "minExtent": 30, "maxExtent": 30}},
                "x2": {"field": "x2"},
                "y": {"field": "y", "type": "quantitative", "title": null, "scale": {"domain": [0, 1.07], "nice": false}, "axis": {"values": [0,0.5,1], "labelExpr": "replace(format(datum.value, '.1f'), '.', ',')", "labelPadding": 18, "minExtent": 62, "maxExtent": 62}}
              }
            },
            {
              "data": {"name": "ev"},
              "mark": {"type": "rule", "strokeWidth": 3},
              "encoding": {
                "x": {"field": "x", "type": "quantitative"},
                "y": {"field": "y", "type": "quantitative"},
                "y2": {"field": "y2"},
                "color": {"field": "s", "type": "nominal", "scale": {"domain": ["k","b"], "range": ["#e2418d","#2a8585"]}, "legend": {"orient": "none", "legendX": 13, "legendY": 216, "labelExpr": "datum.label == 'k' ? 'Filtered adaptable Kai' : 'Coefficient b of AMHZnd'"}},
                "strokeDash": {"field": "s", "type": "nominal", "scale": {"domain": ["k","b"], "range": [[1,0],[3,3]]}, "legend": {"orient": "none", "legendX": 13, "legendY": 216, "labelExpr": "datum.label == 'k' ? 'Filtered adaptable Kai' : 'Coefficient b of AMHZnd'"}}
              }
            },
            {
              "data": {"name": "ek"},
              "mark": {"type": "line", "strokeWidth": 2},
              "encoding": {
                "x": {"field": "x", "type": "quantitative"},
                "y": {"field": "y", "type": "quantitative"},
                "color": {"field": "s", "type": "nominal"},
                "strokeDash": {"field": "s", "type": "nominal"}
              }
            }
          ]
        }
      ],
      "spacing": 0,
      "resolve": {"scale": {"color": "independent", "strokeDash": "independent"}, "legend": {"color": "independent", "strokeDash": "independent"}}
    },
    {
      "hconcat": [
        {"width": 588, "height": 24, "view": {"fill": "white", "stroke": null}, "data": {"values": [{"c": "д"}]}, "mark": {"type": "text", "font": "Liberation Serif", "fontStyle": "italic", "fontSize": 19, "color": "black"}, "encoding": {"text": {"field": "c"}}},
        {"width": 34, "height": 24, "view": {"fill": "white", "stroke": null}, "data": {"values": [{"c": ""}]}, "mark": "text", "encoding": {"text": {"field": "c"}}},
        {"width": 666, "height": 24, "view": {"fill": "white", "stroke": null}, "data": {"values": [{"c": "е"}]}, "mark": {"type": "text", "font": "Liberation Serif", "fontStyle": "italic", "fontSize": 19, "color": "black"}, "encoding": {"text": {"field": "c"}}}
      ],
      "spacing": 0
    }
  ],
  "resolve": {"scale": {"color": "independent", "strokeDash": "independent"}, "legend": {"color": "independent", "strokeDash": "independent"}},
  "config": {
    "view": {"stroke": "#a0a0a0", "fill": "white"},
    "axis": {"labelFont": "DejaVu Sans", "labelFontSize": 15, "labelColor": "#2a2a2a", "domainColor": "#9a9a9a", "gridColor": "#c6c6c6", "gridDash": [2, 2], "ticks": false, "tickSize": 0, "labelPadding": 13, "labelFlush": false},
    "axisY": {"labelPadding": 15},
    "legend": {"direction": "horizontal", "title": null, "strokeColor": "#000000", "strokeWidth": 1.5, "fillColor": "#ffffff", "padding": 5, "labelFont": "Liberation Serif", "labelFontWeight": "bold", "labelFontSize": 18, "labelColor": "#000000", "labelLimit": 400, "symbolType": "stroke", "symbolSize": 900, "symbolStrokeWidth": 2.5, "columnPadding": 22, "labelOffset": 8},
    "line": {"strokeJoin": "round"}
  }
}
